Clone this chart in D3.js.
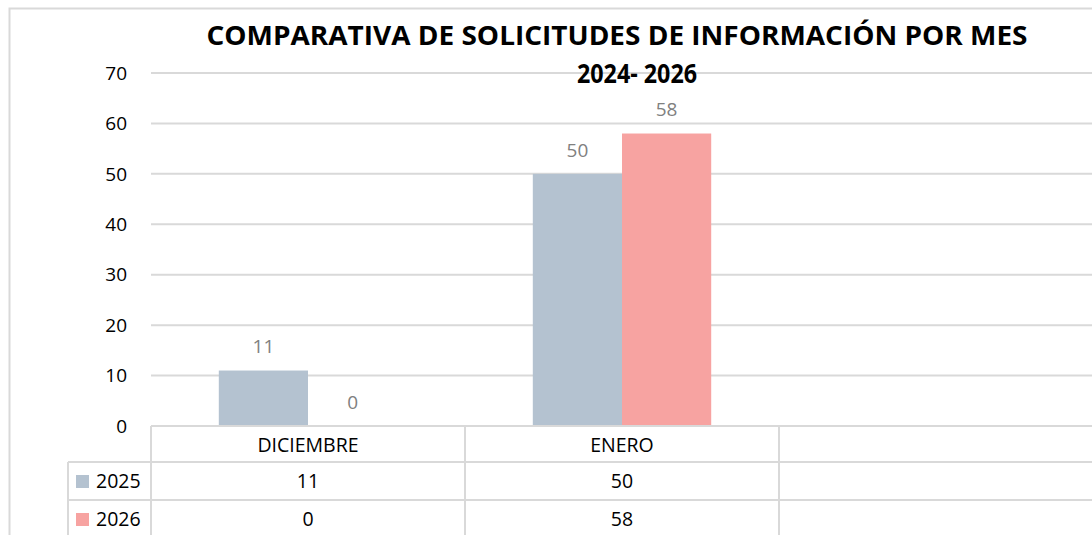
<!DOCTYPE html>
<html>
<head>
<meta charset="utf-8">
<script src="https://cdn.jsdelivr.net/npm/d3@7"></script>
<style>
  body { margin: 0; background: #fff; }
  text { font-family: "Open Sans", "Noto Sans", sans-serif; }
</style>
</head>
<body>
<div id="chart"></div>
<script>
// data
var months = ["DICIEMBRE", "ENERO", ""];
var seriesNames = ["2025", "2026"];
var values2025 = [11, 50, null];
var values2026 = [0, 58, null];
var colors = ["#b4c2d0", "#f7a3a1"];
var yTicks = [0, 10, 20, 30, 40, 50, 60, 70];

var W = 1092, H = 535;
var plotLeft = 151, plotRight = 1093, plotTop = 73, plotBottom = 426;

var svg = d3.select("#chart").append("svg")
  .attr("width", W)
  .attr("height", H);

// outer border
svg.append("path")
  .attr("d", "M9.5," + H + "V8.5H" + W)
  .attr("fill", "none")
  .attr("stroke", "#d9d9d9")
  .attr("stroke-width", 2);

var x = d3.scaleBand()
  .domain(months.map(function(d, i) { return i; }))
  .range([plotLeft, plotRight]);

var x1 = d3.scaleBand()
  .domain(seriesNames)
  .range([0, x.bandwidth()])
  .paddingOuter(0.76)
  .paddingInner(0);

var y = d3.scaleLinear()
  .domain([0, 70])
  .range([plotBottom, plotTop]);

// gridlines
svg.append("g")
  .selectAll("line")
  .data(yTicks)
  .enter().append("line")
  .attr("x1", plotLeft)
  .attr("x2", W)
  .attr("y1", function(d) { return y(d); })
  .attr("y2", function(d) { return y(d); })
  .attr("stroke", "#d9d9d9")
  .attr("stroke-width", 2);

// y tick labels
svg.append("g")
  .selectAll("text")
  .data(yTicks)
  .enter().append("text")
  .attr("x", 127)
  .attr("y", function(d) { return y(d); })
  .attr("dy", "0.35em")
  .attr("text-anchor", "end")
  .attr("font-size", 19)
  .attr("fill", "#000")
  .text(function(d) { return d; });

// bars
var series = [values2025, values2026];
series.forEach(function(vals, s) {
  var g = svg.append("g");
  var pts = vals.map(function(v, i) { return {i: i, v: v}; })
    .filter(function(d) { return d.v !== null; });
  g.selectAll("rect")
    .data(pts)
    .enter().append("rect")
    .attr("x", function(d) { return x(d.i) + x1(seriesNames[s]); })
    .attr("width", x1.bandwidth())
    .attr("y", function(d) { return y(d.v); })
    .attr("height", function(d) { return y(0) - y(d.v); })
    .attr("fill", colors[s]);
  g.selectAll("text")
    .data(pts)
    .enter().append("text")
    .attr("x", function(d) { return x(d.i) + x1(seriesNames[s]) + x1.bandwidth() / 2; })
    .attr("y", function(d) { return y(d.v) - 24; })
    .attr("dy", "0.35em")
    .attr("text-anchor", "middle")
    .attr("font-size", 19)
    .attr("fill", "#808080")
    .text(function(d) { return d.v; });
});

// data table
var rowY = [426, 462, 500, 538];
var tbl = svg.append("g")
  .attr("stroke", "#d9d9d9")
  .attr("stroke-width", 2);
tbl.append("line").attr("x1", plotLeft).attr("x2", W).attr("y1", rowY[0]).attr("y2", rowY[0]);
[1, 2].forEach(function(r) {
  tbl.append("line").attr("x1", 68).attr("x2", W).attr("y1", rowY[r]).attr("y2", rowY[r]);
});
tbl.append("line").attr("x1", 68).attr("x2", 68).attr("y1", rowY[1]).attr("y2", H);
months.forEach(function(m, i) {
  tbl.append("line")
    .attr("x1", x(i)).attr("x2", x(i))
    .attr("y1", rowY[0]).attr("y2", H);
});

svg.append("g")
  .selectAll("text")
  .data(months)
  .enter().append("text")
  .attr("x", function(d, i) { return x(i) + x.bandwidth() / 2; })
  .attr("y", (rowY[0] + rowY[1]) / 2 + 1)
  .attr("dy", "0.35em")
  .attr("text-anchor", "middle")
  .attr("font-size", 19.5)
  .text(function(d) { return d; });

series.forEach(function(vals, s) {
  var cy = (rowY[s + 1] + rowY[s + 2]) / 2;
  svg.append("rect")
    .attr("x", 76).attr("y", cy - 6)
    .attr("width", 13).attr("height", 13)
    .attr("fill", colors[s]);
  svg.append("text")
    .attr("x", 96).attr("y", cy)
    .attr("dy", "0.35em")
    .attr("font-size", 19.5)
    .text(seriesNames[s]);
  svg.append("g")
    .selectAll("text")
    .data(vals)
    .enter().append("text")
    .attr("x", function(d, i) { return x(i) + x.bandwidth() / 2; })
    .attr("y", cy)
    .attr("dy", "0.35em")
    .attr("text-anchor", "middle")
    .attr("font-size", 19.5)
    .text(function(d) { return d === null ? "" : d; });
});

// title
svg.append("text")
  .attr("x", 617)
  .attr("y", 45)
  .attr("text-anchor", "middle")
  .attr("font-size", 27)
  .attr("font-weight", "bold")
  .attr("textLength", 821)
  .attr("lengthAdjust", "spacingAndGlyphs")
  .text("COMPARATIVA DE SOLICITUDES DE INFORMACIÓN POR MES");
svg.append("text")
  .attr("x", 637)
  .attr("y", 83)
  .attr("text-anchor", "middle")
  .attr("font-size", 27)
  .attr("font-weight", "bold")
  .attr("textLength", 120)
  .attr("lengthAdjust", "spacingAndGlyphs")
  .text("2024- 2026");
</script>
</body>
</html>
